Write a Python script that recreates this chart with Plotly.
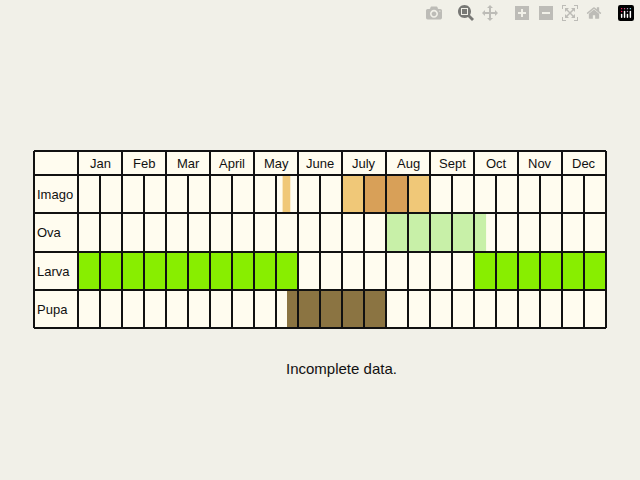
import plotly.graph_objects as go

# Data: half-month periods (0 = early Jan, 24 = end of Dec)
months = ["Jan", "Feb", "Mar", "April", "May", "June", "July", "Aug", "Sept", "Oct", "Nov", "Dec"]
stages = ["Imago", "Ova", "Larva", "Pupa"]
imago_periods = [(9.3, 9.65, "#f0c878"), (12, 13, "#f0c878"), (13, 15, "#d8a058"), (15, 16, "#f0c878")]
ova_periods = [(14, 18.55, "#c8f0a8")]
larva_periods = [(0, 10, "#88ee00"), (18, 24, "#88ee00")]
pupa_periods = [(9.5, 14, "#8b7442")]
periods = [imago_periods, ova_periods, larva_periods, pupa_periods]

# Layout constants
row_edges = [151, 175, 213, 252, 290, 328]   # pixel rows: header + 4 stages
bg = "#f1f0e8"
cell = "#fffcef"

fig = go.Figure()
shapes = []
annotations = []

# table background
shapes.append(dict(type="rect", x0=-2, x1=24, y0=row_edges[0], y1=row_edges[-1],
                   fillcolor=cell, line_width=0, layer="below"))

# coloured periods
for r, plist in enumerate(periods):
    for x0, x1, col in plist:
        shapes.append(dict(type="rect", x0=x0, x1=x1, y0=row_edges[r + 1], y1=row_edges[r + 2],
                           fillcolor=col, line_width=0, layer="below"))

line = dict(color="#111111", width=2)
# horizontal lines
for y in row_edges:
    shapes.append(dict(type="line", x0=-2, x1=24, y0=y, y1=y, line=line))
# vertical lines: month boundaries full height, half-month lines below header
for x in range(-2, 25, 2):
    shapes.append(dict(type="line", x0=x, x1=x, y0=row_edges[0], y1=row_edges[-1], line=line))
for x in range(1, 24, 2):
    shapes.append(dict(type="line", x0=x, x1=x, y0=row_edges[1], y1=row_edges[-1], line=line))

font = dict(family="Liberation Sans, Arial", size=13, color="#111111")
for i, m in enumerate(months):
    annotations.append(dict(x=2 * i + 1, y=(row_edges[0] + row_edges[1]) / 2, text=m,
                            showarrow=False, font=font))
for r, s in enumerate(stages):
    annotations.append(dict(x=-1.95, y=(row_edges[r + 1] + row_edges[r + 2]) / 2, text=s,
                            showarrow=False, xanchor="left", font=font))
annotations.append(dict(x=0.533, y=368, xref="paper", text="Incomplete data.", showarrow=False,
                        font=dict(family="Liberation Sans, Arial", size=15, color="#111111")))

fig.update_layout(
    width=640, height=480, margin=dict(l=0, r=0, t=0, b=0),
    paper_bgcolor=bg, plot_bgcolor=bg, showlegend=False,
    xaxis=dict(range=[-2 - 34 / 22, 24 + 34 / 22], visible=False),
    yaxis=dict(range=[480, 0], visible=False),
    shapes=shapes, annotations=annotations,
)
fig.write_html("out.html", post_script="document.body.style.margin='0';")
